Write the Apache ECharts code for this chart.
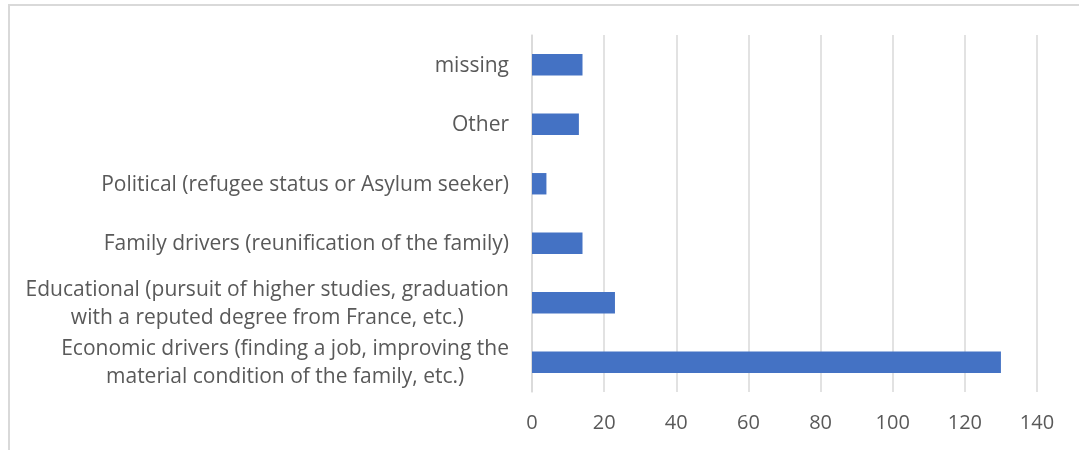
<!DOCTYPE html>
<html>
<head>
<meta charset="utf-8">
<script src="https://cdn.jsdelivr.net/npm/echarts@6/dist/echarts.min.js"></script>
<style>
  html, body { margin: 0; padding: 0; background: #fff; }
  #frame { position: absolute; left: 8px; top: 4px; width: 1100px; height: 500px;
           border-top: 2px solid #d9d9d9; border-left: 2px solid #d9d9d9; }
  #chart { position: absolute; left: 0; top: 0; width: 1079px; height: 450px; }
</style>
</head>
<body>
<div id="frame"></div>
<div id="chart"></div>
<script>
const categories = [
  "Economic drivers (finding a job, improving the\nmaterial condition of the family, etc.)",
  "Educational (pursuit of higher studies, graduation\nwith a reputed degree from France, etc.)",
  "Family drivers (reunification of the family)",
  "Political (refugee status or Asylum seeker)",
  "Other",
  "missing"
];
const values = [130, 23, 14, 4, 13, 14];
const xTicks = { min: 0, max: 140, interval: 20 };

const FONT = 'Open Sans';
const chart = echarts.init(document.getElementById('chart'), null, { renderer: 'canvas' });
chart.setOption({
  backgroundColor: 'transparent',
  animation: false,
  grid: { left: 532, right: 42, top: 35, bottom: 58, containLabel: false },
  xAxis: {
    type: 'value',
    min: xTicks.min, max: xTicks.max, interval: xTicks.interval,
    axisLine: { show: false },
    axisTick: { show: false },
    splitLine: { show: true, lineStyle: { color: '#d9d9d9', width: 1.5 } },
    axisLabel: { color: '#595959', fontFamily: FONT, fontSize: 20, margin: 21 }
  },
  yAxis: {
    type: 'category',
    data: categories,
    axisLine: { show: true, lineStyle: { color: '#d9d9d9', width: 1.5 } },
    axisTick: { show: false },
    axisLabel: {
      margin: 23,
      color: '#595959',
      fontFamily: FONT,
      fontSize: 21,
      lineHeight: 28,
      formatter: function (v) {
        return v.split('\n').map(function (s) { return '{c|' + s + '}'; }).join('\n');
      },
      rich: { c: { align: 'center', color: '#595959', fontFamily: FONT, fontSize: 21, lineHeight: 28, padding: [2, 0, 0, 0] } }
    }
  },
  series: [{
    type: 'bar',
    data: values,
    barWidth: '36%',
    itemStyle: { color: '#4472c4' }
  }]
});
</script>
</body>
</html>
